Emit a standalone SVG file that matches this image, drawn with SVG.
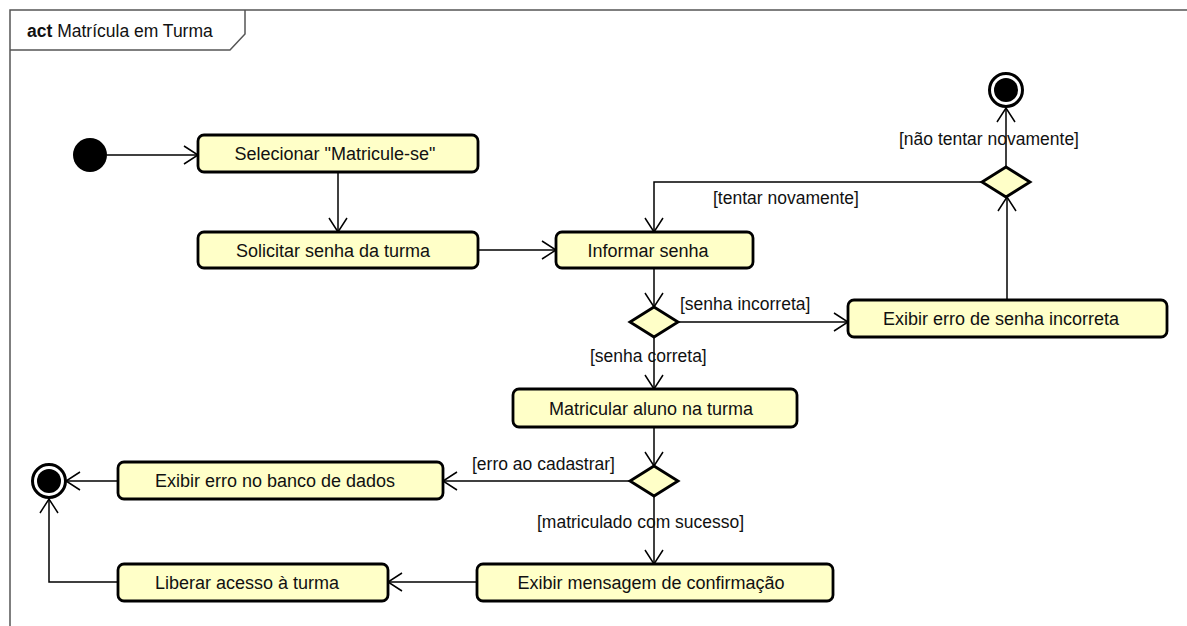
<svg xmlns="http://www.w3.org/2000/svg" width="1187" height="626" viewBox="0 0 1187 626">
  <defs>
    <marker id="open" viewBox="0 0 16 20" refX="15" refY="10" markerWidth="16" markerHeight="20" orient="auto" markerUnits="userSpaceOnUse">
      <path d="M1,1 L15,10 L1,19" fill="none" stroke="#000" stroke-width="1.5"/>
    </marker>
  </defs>
  <style>
    .frame { fill: none; stroke: #555; stroke-width: 1.5; }
    .action { fill: #ffffc8; stroke: #000; stroke-width: 2.8; }
    .decision { fill: #ffffc8; stroke: #000; stroke-width: 2.8; }
    .flow { fill: none; stroke: #000; stroke-width: 1.5; marker-end: url(#open); }
    text { font-family: "Liberation Sans", Arial, sans-serif; font-size: 18px; fill: #111; }
    .label { text-anchor: middle; }
    .guard { font-size: 17.5px; }
    .title { font-size: 17.5px; }
  </style>
  <rect width="1187" height="626" fill="#fff"/>

  <!-- frame -->
  <g id="frame">
    <path class="frame" d="M10,640 L10,10 L1200,10"/>
    <path class="frame" d="M10,50 L230,50 L245,34 L245,10"/>
    <text class="title" x="27" y="37"><tspan font-weight="bold">act</tspan> Matrícula em Turma</text>
  </g>

  <!-- connectors -->
  <g id="connectors">
    <line class="flow" x1="107" y1="155" x2="198" y2="155"/>
    <line class="flow" x1="338" y1="172" x2="338" y2="232"/>
    <line class="flow" x1="478" y1="250" x2="556" y2="250"/>
    <line class="flow" x1="654" y1="268" x2="654" y2="307"/>
    <line class="flow" x1="679" y1="322" x2="848" y2="322"/>
    <line class="flow" x1="1007" y1="300" x2="1007" y2="197"/>
    <line class="flow" x1="1006" y1="167" x2="1006" y2="108"/>
    <polyline class="flow" points="982,182 654,182 654,232"/>
    <line class="flow" x1="654" y1="337" x2="654" y2="389"/>
    <line class="flow" x1="654" y1="427" x2="654" y2="466"/>
    <line class="flow" x1="630" y1="481" x2="443" y2="481"/>
    <line class="flow" x1="118" y1="481" x2="66" y2="481"/>
    <line class="flow" x1="654" y1="496" x2="654" y2="564"/>
    <line class="flow" x1="477" y1="582" x2="388" y2="582"/>
    <polyline class="flow" points="118,582 49,582 49,499"/>

    <text class="guard label" x="989" y="145">[não tentar novamente]</text>
    <text class="guard" x="713" y="204">[tentar novamente]</text>
    <text class="guard" x="680" y="310">[senha incorreta]</text>
    <text class="guard" x="590" y="362">[senha correta]</text>
    <text class="guard" x="472" y="470">[erro ao cadastrar]</text>
    <text class="guard" x="537" y="528">[matriculado com sucesso]</text>
  </g>

  <!-- nodes -->
  <g id="initial">
    <circle cx="90" cy="155" r="17" fill="#000"/>
  </g>

  <g id="selecionar">
    <rect class="action" x="198" y="135" width="280" height="37" rx="6"/>
    <text class="label" x="335" y="160">Selecionar "Matricule-se"</text>
  </g>

  <g id="solicitar">
    <rect class="action" x="198" y="232" width="280" height="36" rx="6"/>
    <text class="label" x="333" y="257">Solicitar senha da turma</text>
  </g>

  <g id="informar">
    <rect class="action" x="556" y="232" width="197" height="36" rx="6"/>
    <text class="label" x="648" y="257">Informar senha</text>
  </g>

  <g id="decisao-senha">
    <polygon class="decision" points="654,307 678,322 654,337 630,322"/>
  </g>

  <g id="erro-senha">
    <rect class="action" x="848" y="300" width="319" height="37" rx="6"/>
    <text class="label" x="1001" y="325">Exibir erro de senha incorreta</text>
  </g>

  <g id="decisao-tentar">
    <polygon class="decision" points="1006,167 1030,182 1006,197 982,182"/>
  </g>

  <g id="final-topo">
    <circle cx="1006" cy="90" r="16.5" fill="#fff" stroke="#000" stroke-width="3"/>
    <circle cx="1006" cy="90" r="12" fill="#000"/>
  </g>

  <g id="matricular">
    <rect class="action" x="513" y="389" width="284" height="38" rx="6"/>
    <text class="label" x="651" y="415">Matricular aluno na turma</text>
  </g>

  <g id="decisao-cadastro">
    <polygon class="decision" points="654,466 678,481 654,496 630,481"/>
  </g>

  <g id="erro-banco">
    <rect class="action" x="118" y="462" width="325" height="37" rx="6"/>
    <text class="label" x="275" y="487">Exibir erro no banco de dados</text>
  </g>

  <g id="final-esquerda">
    <circle cx="49" cy="481" r="16.5" fill="#fff" stroke="#000" stroke-width="3"/>
    <circle cx="49" cy="481" r="12" fill="#000"/>
  </g>

  <g id="confirmacao">
    <rect class="action" x="477" y="564" width="356" height="37" rx="6"/>
    <text class="label" x="651" y="589">Exibir mensagem de confirmação</text>
  </g>

  <g id="liberar">
    <rect class="action" x="118" y="564" width="270" height="37" rx="6"/>
    <text class="label" x="247" y="589">Liberar acesso à turma</text>
  </g>
</svg>
